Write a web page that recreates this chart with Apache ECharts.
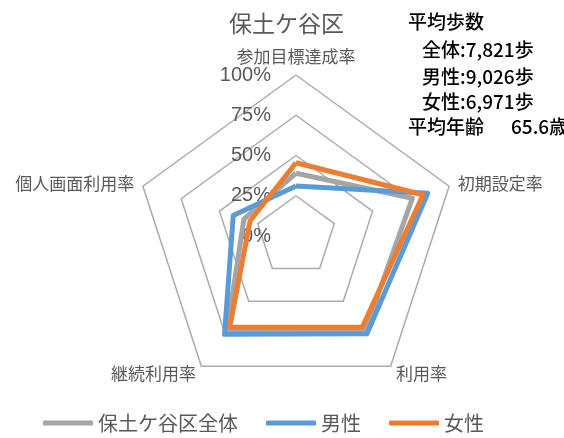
<!DOCTYPE html>
<html><head><meta charset="utf-8">
<script src="https://cdn.jsdelivr.net/npm/echarts@6/dist/echarts.min.js"></script>
<style>html,body{margin:0;padding:0;background:#fff}#c{width:564px;height:438px}</style>
</head><body><div id="c"></div>
<script>
// Indicators listed counter-clockwise starting from top
const indicators = ['参加目標達成率', '個人画面利用率', '継続利用率', '利用率', '初期設定率'];
const seriesNames = ['保土ケ谷区全体', '男性', '女性'];
const totalValues = [39, 34, 73, 73, 76];
const maleValues = [31, 41, 75.5, 75, 86];
const femaleValues = [45.5, 30, 70, 70, 83];
const tickLabels = ['0%', '25%', '50%', '75%', '100%'];
const infoLines = ['平均歩数', '全体:7,821歩', '男性:9,026歩', '女性:6,971歩', '平均年齢'];
const avgAge = '65.6歳';
const colors = ['#A5A5A5', '#5B9BD5', '#ED7D31'];

const JP = '"Noto Sans CJK JP", "Noto Sans", sans-serif';
const chart = echarts.init(document.getElementById('c'), null, {renderer: 'canvas'});
const values = [totalValues, maleValues, femaleValues];

chart.setOption({
  animation: false,
  color: colors,
  title: {
    text: '保土ケ谷区', left: 229, top: 12, padding: 0,
    textStyle: {fontFamily: JP, fontSize: 23, fontWeight: 'normal', color: '#595959'}
  },
  legend: {
    data: seriesNames, left: 43, top: 413, padding: 0,
    icon: 'roundRect', itemWidth: 50, itemHeight: 5, itemGap: 28,
    textStyle: {fontFamily: JP, fontSize: 20, color: '#595959', padding: [0,0,0,0]}
  },
  radar: {
    center: [296, 236], radius: 161, startAngle: 90, splitNumber: 4,
    shape: 'polygon',
    indicator: indicators.map((n, i) => ({
      name: n, min: 0, max: 100,
      axisLabel: i === 0 ? {show: true} : {show: false}
    })),
    axisName: {fontFamily: JP, fontSize: 17, color: '#595959'},
    nameGap: 9,
    splitArea: {show: false},
    splitLine: {lineStyle: {color: '#ABABAB', width: 1.5}},
    axisLine: {show: false},
    axisTick: {show: false},
    axisLabel: {
      show: false, margin: 25, fontSize: 20, color: '#595959',
      fontFamily: '"Liberation Sans Narrow", "Liberation Sans", sans-serif',
      formatter: (v) => tickLabels[Math.round(v / 25)]
    }
  },
  series: [{
    type: 'radar', symbol: 'none',
    data: values.map((arr, i) => ({
      name: seriesNames[i], value: arr,
      lineStyle: {color: colors[i], width: 5},
      itemStyle: {color: colors[i]}
    }))
  }],
  graphic: [
    ...infoLines.map((t, i) => ({
      type: 'text', left: i === 0 || i === 4 ? 408 : 422, top: [12, 40, 67, 92, 117][i],
      style: {text: t, fontFamily: JP, fontSize: 19, fontWeight: 500, fill: '#000'}
    })),
    {type: 'text', left: 511, top: 117,
     style: {text: avgAge, fontFamily: JP, fontSize: 19, fontWeight: 500, fill: '#000'}}
  ]
});
</script></body></html>
